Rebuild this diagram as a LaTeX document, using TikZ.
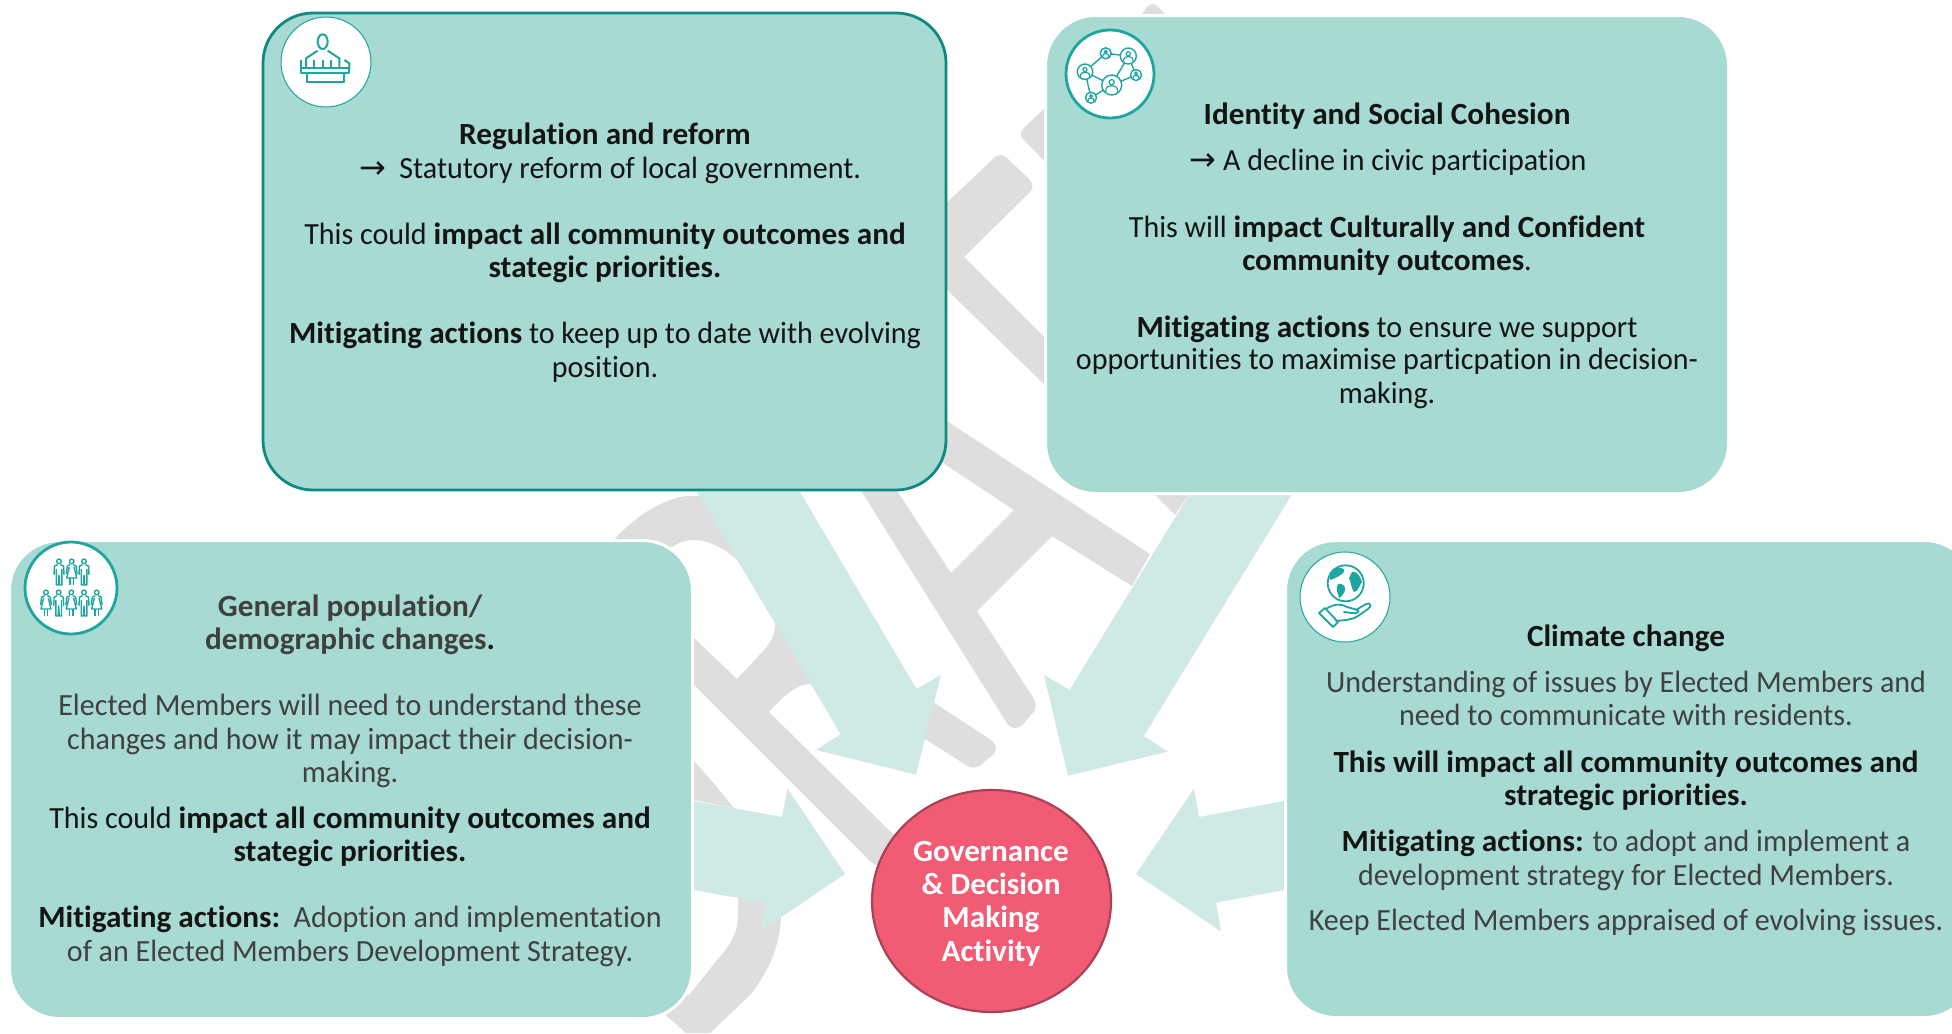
\documentclass[tikz,border=0pt]{standalone}
\usepackage{fontspec}
\usetikzlibrary{shapes.geometric}
\setmainfont{Carlito}[Ligatures=NoCommon,FakeStretch=0.975,BoldFeatures={FakeStretch=1.015}]
\newfontfamily\arrowfont{DejaVu Sans}
\definecolor{boxfill}{HTML}{A6DAD2}
\definecolor{boxline}{HTML}{0E8A82}
\definecolor{arrowfill}{HTML}{CFE9E4}
\definecolor{logogray}{HTML}{DEDEDE}
\definecolor{hubfill}{HTML}{F25B74}
\definecolor{hubline}{HTML}{A94258}
\definecolor{icon}{HTML}{1FA5A0}
\definecolor{softtext}{HTML}{404040}
\definecolor{darktext}{HTML}{141414}
\newcommand{\rarr}{{\arrowfont\fontsize{16}{18}\selectfont →}}
\newcommand{\manfig}[2]{\begin{scope}[shift={(#1,#2)}]
 \draw (0,2.4) circle[radius=2.3];
 \draw (-1.5,5.6)--(-4.6,7.2)--(-5,16) (1.5,5.6)--(4.6,7.2)--(5,16);
 \draw (-2.8,10)--(-2.8,26)--(-0.6,26)--(0,16)--(0.6,26)--(2.8,26)--(2.8,10);
\end{scope}}
\newcommand{\womanfig}[2]{\begin{scope}[shift={(#1,#2)}]
 \draw (0,2.4) circle[radius=2.3];
 \draw (-1.5,5.6)--(-4.4,7.2)--(-5.4,15) (1.5,5.6)--(4.4,7.2)--(5.4,15);
 \draw (-2.4,8)--(-5,19)--(5,19)--(2.4,8);
 \draw (-1.6,19)--(-1.6,26) (1.6,19)--(1.6,26);
\end{scope}}
\newcommand{\bubble}[4]{\node[circle,draw=icon,fill=white,line width=0.7pt,inner sep=0pt,minimum size=#4pt] (#1) at (#2,#3) {};
 \begin{scope}[shift={(#2,#3)},scale=#4/10]
 \draw[icon,line width=0.6pt] (0,-2.8) circle[radius=2.6];
 \draw[icon,line width=0.6pt] (-6,6.8) .. controls (-6,1.5) and (-3,0.6) .. (0,0.6) .. controls (3,0.6) and (6,1.5) .. (6,6.8);
 \end{scope}}
\tikzset{
 x=0.5pt,y=-0.5pt,
 grayshape/.style={fill=logogray,draw=none},
 blockarrow/.style={fill=arrowfill,draw=none},
 panel/.style={rounded corners=25pt,fill=boxfill,inner sep=0pt,outer sep=0pt,anchor=north west},
 halo/.style={draw=white,line width=1.5pt},
 iconring/.style={circle,fill=white,draw=icon,inner sep=0pt},
 txt/.style={anchor=base,inner sep=0pt,font=\fontsize{15.4}{18}\selectfont,text=darktext},
 soft/.style={txt,text=softtext},
 hubtxt/.style={anchor=base,inner sep=0pt,font=\fontsize{15.4}{18}\selectfont\bfseries,text=white},
}
\begin{document}
\begin{tikzpicture}
\useasboundingbox (0,0) rectangle (1952,1033);
\clip (0,0) rectangle (1952,1033);
\fill[white] (0,0) rectangle (1952,1033);

% grey logo pieces
\fill[grayshape] (1138,20)--(1147,7) .. controls (1150,3) and (1155,3) .. (1158,7)--(1171,20)--cycle;
\fill[grayshape] (1052,101)--(1023,129) .. controls (1020,132) and (1020,136) .. (1023,139)--(1052,169)--cycle;
\fill[grayshape] (938,211)--(994,158) .. controls (998,154) and (1003,154) .. (1007,158)--(1028,178) .. controls (1033,183) and (1034,188) .. (1030,192)--(964,257)--(1052,345)--(1052,392)--(938,281)--cycle;
\fill[grayshape] (843,462)--(878,462)--(951,573)--(1014,510)--(920,448)--(930,410)--(1150,554)--(1132,586)--(1052,536)--(977,611)--(1034,699) .. controls (1038,708) and (1034,712) .. (1030,716)--(1024,723) .. controls (1018,730) and (1010,730) .. (1005,720)--cycle;
\fill[grayshape] (1150,490)--(1192,490)--(1175,515)--cycle;
\fill[grayshape] (610,570)--(612,542) .. controls (640,510) and (672,496) .. (690,496)--(700,496)--(745,570)--(735,558) .. controls (720,545) and (705,540) .. (695,540) .. controls (685,540) and (678,543) .. (672,547)--cycle;
\fill[grayshape] (775,625) .. controls (775,635) and (770,643) .. (765,649)--(737,679)--(693,637)--(680,630)--(680,672)--(694,685)--(868,859) .. controls (873,865) and (880,867) .. (885,866)--(905,846)--(769,712) .. controls (780,700) and (795,684) .. (810,684)--(830,700)--(800,610)--cycle;
\fill[grayshape] (900,685)--(933,702)--(988,738) .. controls (997,744) and (998,750) .. (993,755)--(984,762) .. controls (978,769) and (972,769) .. (966,765)--(925,739)--(900,725)--cycle;
\fill[grayshape] (694,761)--(716,786)--(734,808)--(694,800)--cycle;
\fill[grayshape] (738,880)--(738,915) .. controls (738,935) and (728,948) .. (717,960)--(690,994)--(660,1010)--(686,1033)--(710,1033)--(750,995) .. controls (770,970) and (780,945) .. (781,915)--(775,880)--cycle;

% block arrows
\fill[blockarrow] (697,492)--(800,492)--(916.5,689)--(941,675)--(916,774.5)--(816,750)--(840.6,734)--cycle;
\fill[blockarrow] (1189,495)--(1291.5,495)--(1143.8,736)--(1168,751.6)--(1068,775.6)--(1044,675)--(1069.6,690)--cycle;
\fill[blockarrow] (694,801)--(782,817)--(787.5,788.6)--(845,874)--(760,931.5)--(766,903)--(694,890)--cycle;
\fill[blockarrow] (1284,801)--(1199,817)--(1194,788.6)--(1136,874)--(1221,931.5)--(1216,902.6)--(1284,890)--cycle;

% panels
\node[panel,draw=boxline,line width=1.4pt,minimum width=341.5pt,minimum height=238.5pt] (regbox) at (263,13) {};
\node[panel,halo,fill=boxfill,minimum width=341.5pt,minimum height=239pt] (idbox) at (1045.5,15.5) {};
\node[panel,halo,fill=boxfill,minimum width=341.5pt,minimum height=239pt] (popbox) at (9.5,540.5) {};
\node[panel,halo,fill=boxfill,minimum width=344.5pt,minimum height=238.5pt] (climbox) at (1285.5,540.5) {};

% hub
\node[ellipse,draw=hubline,fill=hubfill,line width=1.1pt,minimum width=119.5pt,minimum height=111pt,inner sep=0pt] (hub) at (991.5,901) {};
\node[hubtxt] (h1) at (991,861.5) {Governance};
\node[hubtxt] (h2) at (991,894.5) {\& Decision};
\node[hubtxt] (h3) at (991,927.5) {Making};
\node[hubtxt] (h4) at (991,961.5) {Activity};

% regulation text
\node[txt] (r1) at (605,144.5) {\bfseries Regulation and reform};
\node[txt] (r2) at (610,178) {\rarr\ \ Statutory reform of local government.};
\node[txt] (r3) at (605,244) {This could \textbf{impact all community outcomes and}};
\node[txt] (r4) at (605,277) {\bfseries stategic priorities.};
\node[txt] (r5) at (605,343.5) {\textbf{Mitigating actions} to keep up to date with evolving};
\node[txt] (r6) at (605,377) {position.};

% identity text
\node[txt] (i1) at (1387,124) {\bfseries Identity and Social Cohesion};
\node[txt] (i2) at (1388,170) {\rarr\ A decline in civic participation};
\node[txt] (i3) at (1387,237) {This will \textbf{impact Culturally and Confident}};
\node[txt] (i4) at (1387,270) {\textbf{community outcomes}.};
\node[txt] (i5) at (1387,337) {\textbf{Mitigating actions} to ensure we support};
\node[txt] (i6) at (1387,369) {opportunities to maximise particpation in decision-};
\node[txt] (i7) at (1387,403) {making.};

% population text
\node[soft] (p1) at (350,616) {\bfseries General population/};
\node[soft] (p2) at (350,649) {\bfseries demographic changes\textcolor{darktext}{.}};
\node[soft] (p3) at (350,715) {Elected Members will need to understand these};
\node[soft] (p4) at (350,749) {changes and how it may impact their decision-};
\node[soft] (p5) at (350,782) {making.};
\node[txt] (p6) at (350,828) {This could \textbf{impact all community outcomes and}};
\node[txt] (p7) at (350,861) {\bfseries stategic priorities.};
\node[soft] (p8) at (350,927) {\textbf{\textcolor{darktext}{Mitigating actions:}}\ \ Adoption and implementation};
\node[soft] (p9) at (350,961) {of an Elected Members Development Strategy.};

% climate text
\node[txt] (c1) at (1626,646.5) {\bfseries Climate change};
\node[soft] (c2) at (1626,692.5) {Understanding of issues by Elected Members and};
\node[soft] (c3) at (1626,725.5) {need to communicate with residents.};
\node[txt] (c4) at (1626,772.5) {\bfseries This will impact all community outcomes and};
\node[txt] (c5) at (1626,805.5) {\bfseries strategic priorities.};
\node[soft] (c6) at (1626,851.5) {\textbf{\textcolor{darktext}{Mitigating actions:}} to adopt and implement a};
\node[soft] (c7) at (1626,885.5) {development strategy for Elected Members.};
\node[soft] (c8) at (1626,930.5) {Keep Elected Members appraised of evolving issues.};

% icon: podium
\node[iconring,line width=0.5pt,minimum size=45pt] (podring) at (326,62) {};
\begin{scope}[icon,line width=1pt,shift={(271,10)},x=0.1667pt,y=-0.1667pt,line join=round]
 \draw (155,95) ellipse[x radius=15,y radius=22];
 \draw (140,122)--(105,145)--(105,175) (170,122)--(205,145)--(205,175);
 \draw (90,150)--(90,175) (220,150)--(235,160)--(235,175);
 \draw (130,150)--(130,175) (155,150)--(155,175) (180,150)--(180,175);
 \draw (90,175) rectangle (235,190);
 \draw (108,190) rectangle (218,217);
\end{scope}

% icon: network
\node[iconring,line width=1.4pt,minimum size=44pt] (netring) at (1110,74) {};
\begin{scope}[line width=0.7pt]
\draw[icon] (1085,71.7)--(1105.7,53.3)--(1128.3,56)--(1111.7,85)--(1085,71.7)--(1091,97.7)--(1111.7,85)--(1136,75)--(1128.3,56);
\bubble{nb}{1111.7}{85}{10}
\bubble{na}{1085}{71.7}{7.7}
\bubble{nc}{1128.3}{56}{8}
\bubble{nd}{1105.7}{53.3}{5.5}
\bubble{ne}{1136}{75}{5.5}
\bubble{nf}{1091}{97.7}{5.5}
\end{scope}

% icon: people
\node[iconring,line width=1.4pt,minimum size=46pt] (popring) at (71,588) {};
\begin{scope}[icon,line width=0.7pt,line join=round]
 \manfig{59}{559}\womanfig{71.7}{559}\manfig{84}{559}
 \womanfig{46}{590}\manfig{58.7}{590}\womanfig{71.3}{590}\manfig{84}{590}\womanfig{96.7}{590}
\end{scope}

% icon: globe and hand
\node[iconring,line width=0.5pt,minimum size=45pt] (globering) at (1345,597) {};
\begin{scope}[icon,line width=0.9pt,line join=round,line cap=round]
 \draw (1345.7,583.3) circle[radius=18];
 \fill (1333,569) .. controls (1340,567) and (1346,568) .. (1344,572) .. controls (1340,576) and (1336,578) .. (1330,580)--(1329,574)--cycle;
 \fill (1338,584) .. controls (1342,583) and (1346,586) .. (1345,590) .. controls (1344,594) and (1341,597) .. (1339,598) .. controls (1338,593) and (1335,589) .. (1338,584)--cycle;
 \fill (1352,572) .. controls (1356,570) and (1360,576) .. (1362,582) .. controls (1360,584) and (1358,592) .. (1354,592) .. controls (1351,588) and (1351,582) .. (1349,578)--cycle;
 \draw (1319,613)--(1333,627)--(1338,622)--(1325,608)--cycle;
 \draw (1326,609) .. controls (1335,603) and (1342,604) .. (1347,607)--(1358,610) .. controls (1360,612) and (1356,614) .. (1352,613)--(1344,612);
 \draw (1336,621) .. controls (1345,620) and (1352,620) .. (1358,616)--(1368,609) .. controls (1372,606) and (1371,602) .. (1366,604)--(1356,610);
\end{scope}
\end{tikzpicture}
\end{document}
